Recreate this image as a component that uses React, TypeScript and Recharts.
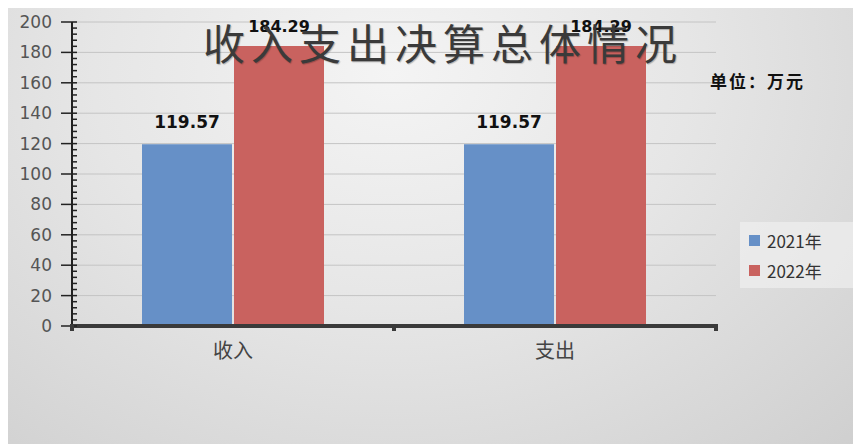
import { BarChart, Bar, XAxis, YAxis, CartesianGrid, LabelList } from "recharts";

const categories = ["收入", "支出"];
const values2021 = [119.57, 119.57];
const values2022 = [184.29, 184.29];
const seriesNames = ["2021年", "2022年"];
const COLORS = ["#6690c7", "#c9625f"];
const majorTicks = [0, 20, 40, 60, 80, 100, 120, 140, 160, 180, 200];
const minorTicks = Array.from({ length: 51 }, (_, i) => i * 4);

const data = categories.map((name, i) => ({
  name,
  y2021: values2021[i],
  y2022: values2022[i],
}));

function YTick(props: any) {
  const { x, y, payload } = props;
  const v = payload.value;
  if (v % 20 !== 0) {
    return <line x1={x} x2={x + 5} y1={y} y2={y} stroke="#222" strokeWidth={1.5} />;
  }
  return (
    <g>
      <line x1={x - 11} x2={x + 5} y1={y} y2={y} stroke="#222" strokeWidth={1.5} />
      <text x={x - 20} y={y} dy={6} textAnchor="end" fontSize={17} fill="#555" fontFamily="DejaVu Sans">
        {v}
      </text>
    </g>
  );
}

function XTick(props: any) {
  const { x, y, payload, index } = props;
  const half = payload.offset || 0;
  return (
    <g>
      {index === 0 && <rect x={x - half - 2} y={y - 2} width={4} height={7} fill="#3a3a3a" />}
      <rect x={x + half - 2} y={y - 2} width={4} height={7} fill="#3a3a3a" />
      <text x={x} y={y + 32} textAnchor="middle" fontSize={20} fill="#444" fontFamily="Noto Sans CJK SC">
        {payload.value}
      </text>
    </g>
  );
}

export default function App() {
  return (
    <div
      style={{
        position: "relative",
        width: 853,
        height: 436,
        background: "radial-gradient(ellipse at 45% 15%, #f4f4f4 0%, #e6e6e6 45%, #cfcfcf 100%)",
        overflow: "hidden",
      }}
    >
      <BarChart
        width={853}
        height={436}
        data={data}
        margin={{ top: 14, right: 145, bottom: 68, left: 0 }}
        barGap={2}
      >
        <CartesianGrid vertical={false} stroke="#c4c4c4" horizontalValues={majorTicks} />
        <YAxis
          domain={[0, 200]}
          ticks={minorTicks}
          interval={0}
          width={64}
          tickSize={0}
          tickMargin={0}
          tickLine={false}
          axisLine={{ stroke: "#222", strokeWidth: 2 }}
          tick={<YTick />}
        />
        <XAxis
          dataKey="name"
          height={50}
          tickSize={0}
          tickMargin={0}
          tickLine={false}
          axisLine={{ stroke: "#3a3a3a", strokeWidth: 4 }}
          tick={<XTick />}
        />
        <Bar dataKey="y2021" name={seriesNames[0]} fill={COLORS[0]} barSize={90} isAnimationActive={false}>
          <LabelList dataKey="y2021" position="top" offset={16} fontSize={17} fontWeight="bold" fill="#111" fontFamily="DejaVu Sans" />
        </Bar>
        <Bar dataKey="y2022" name={seriesNames[1]} fill={COLORS[1]} barSize={90} isAnimationActive={false}>
          <LabelList dataKey="y2022" position="top" offset={14} fontSize={16} fontWeight="bold" fill="#111" fontFamily="DejaVu Sans" />
        </Bar>
      </BarChart>
      <div
        style={{
          position: "absolute",
          left: 0,
          width: 870,
          top: 10,
          textAlign: "center",
          fontSize: 42,
          letterSpacing: 6,
          color: "#3a3a3a",
          fontFamily: "Noto Sans CJK SC",
          lineHeight: "48px",
          textShadow: "1px 1px 1px rgba(0,0,0,0.25)",
        }}
      >
        收入支出决算总体情况
      </div>
      <div
        style={{
          position: "absolute",
          left: 702,
          top: 60,
          fontSize: 17,
          letterSpacing: 2,
          fontWeight: "bold",
          color: "#111",
          fontFamily: "Noto Sans CJK SC",
        }}
      >
        单位：万元
      </div>
      <div
        style={{
          position: "absolute",
          left: 732,
          top: 214,
          width: 104,
          padding: "3px 0 3px 9px",
          background: "rgba(240,240,240,0.7)",
          fontFamily: "Noto Sans CJK SC",
          fontSize: 17,
          color: "#333",
        }}
      >
        {seriesNames.map((s, i) => (
          <div key={s} style={{ display: "flex", alignItems: "center", height: 30 }}>
            <span style={{ width: 11, height: 11, background: COLORS[i], marginRight: 7, display: "inline-block" }} />
            {s}
          </div>
        ))}
      </div>
    </div>
  );
}
